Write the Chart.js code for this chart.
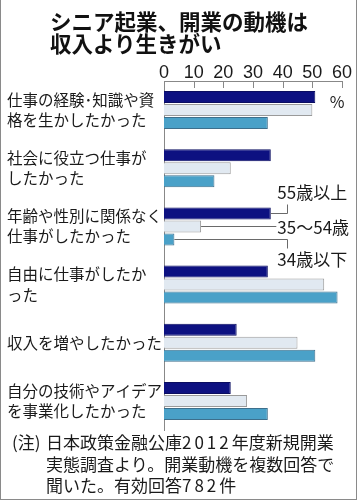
<!DOCTYPE html>
<html><head><meta charset="utf-8">
<script src="https://cdn.jsdelivr.net/npm/chart.js@4.4.1/dist/chart.umd.min.js"></script>
<style>
html,body{margin:0;padding:0;background:#fff;}
#wrap{position:relative;width:357px;height:500px;overflow:hidden;font-family:'Noto Sans CJK JP',sans-serif;color:#1a1a1a;}
#frame{position:absolute;left:0;top:0;width:357px;height:500px;box-sizing:border-box;border:1px solid #8a8a8a;border-top:none;pointer-events:none;}
#title{position:absolute;left:50px;top:10px;font-size:21.5px;font-weight:700;line-height:22px;white-space:nowrap;color:#111;}
#note{position:absolute;left:12px;top:431px;font-size:17px;line-height:21.7px;white-space:nowrap;}
#note .h{display:inline-block;width:34px;}
#note .d{letter-spacing:3px;}
canvas{position:absolute;left:0;top:0;}
</style></head><body>
<div id="wrap">
<canvas id="c" width="357" height="500"></canvas>
<div id="title">シニア起業、開業の動機は<br>収入より生きがい</div>
<div id="note"><span class="h">(注)</span>日本政策金融公庫<span class="d">2012</span>年度新規開業<br><span class="h"></span>実態調査より。開業動機を複数回答で<br><span class="h"></span>聞いた。有効回答<span class="d">782</span>件</div>
<div id="frame"></div>
</div>
<script>
const categories = [
  ["仕事の経験･知識や資","格を生かしたかった"],
  ["社会に役立つ仕事が","したかった"],
  ["年齢や性別に関係なく","仕事がしたかった"],
  ["自由に仕事がしたか","った"],
  ["収入を増やしたかった"],
  ["自分の技術やアイデア","を事業化したかった"]
];
const seriesNames = ["55歳以上","35～54歳","34歳以下"];
const age55over = [51, 36, 36, 35, 24.5, 22.5];
const age35to54 = [50, 22.5, 12.5, 54, 45, 28];
const age34under = [35, 17, 3.5, 58.5, 51, 35];
const xTicks = [0, 10, 20, 30, 40, 50, 60];
const unitLabel = "%";

const CJK = "'Noto Sans CJK JP', sans-serif";
const NUM = "'Liberation Sans', Arial, sans-serif";

const decor = {
  id: 'decor',
  afterDraw(chart) {
    const ctx = chart.ctx;
    const xs = chart.scales.x;
    const ca = chart.chartArea;
    ctx.save();
    ctx.strokeStyle = '#888';
    ctx.lineWidth = 1;
    xTicks.forEach(v => {
      const x = Math.round(xs.getPixelForValue(v)) + 0.5;
      ctx.beginPath();
      ctx.moveTo(x, ca.top);
      ctx.lineTo(x, ca.top + 7);
      ctx.stroke();
    });
    ctx.fillStyle = '#1a1a1a';
    ctx.font = "16px " + CJK;
    ctx.textAlign = 'center';
    ctx.textBaseline = 'middle';
    ctx.fillText(unitLabel, ca.right - 5, ca.top + 21);

    const idx = 2;
    const m0 = chart.getDatasetMeta(0).data[idx];
    const m1 = chart.getDatasetMeta(1).data[idx];
    const m2 = chart.getDatasetMeta(2).data[idx];
    const elbowX = Math.round(xs.getPixelForValue(41.5)) + 0.5;
    const textX = xs.getPixelForValue(38.2);
    ctx.strokeStyle = '#6a6a6a';
    ctx.beginPath();
    let y0 = Math.round(m0.y) + 0.5;
    ctx.moveTo(m0.x, y0); ctx.lineTo(elbowX, y0); ctx.lineTo(elbowX, y0 - 9);
    ctx.stroke();
    ctx.beginPath();
    let y1 = Math.round(m1.y) + 0.5;
    ctx.moveTo(m1.x, y1); ctx.lineTo(textX - 1, y1);
    ctx.stroke();
    ctx.beginPath();
    let y2 = Math.round(m2.y) + 0.5;
    ctx.moveTo(m2.x, y2); ctx.lineTo(elbowX, y2); ctx.lineTo(elbowX, y2 + 9);
    ctx.stroke();

    ctx.font = "17px " + CJK;
    ctx.textAlign = 'left';
    ctx.fillStyle = '#1a1a1a';
    ctx.fillText(seriesNames[0], textX, m0.y - 20.5);
    ctx.fillText(seriesNames[1], textX, m1.y + 1.5);
    ctx.fillText(seriesNames[2], textX, m2.y + 20.5);
    ctx.restore();
  }
};

new Chart(document.getElementById('c'), {
  type: 'bar',
  data: {
    labels: categories,
    datasets: [
      { label: seriesNames[0], data: age55over, backgroundColor: '#0d1181', borderColor: '#0a0d60', borderWidth: 1 },
      { label: seriesNames[1], data: age35to54, backgroundColor: '#e1e9f1', borderColor: '#9a9a9a', borderWidth: 1 },
      { label: seriesNames[2], data: age34under, backgroundColor: '#4aa1c8', borderColor: '#3d6f8c', borderWidth: 1 }
    ]
  },
  options: {
    indexAxis: 'y',
    responsive: false,
    animation: false,
    devicePixelRatio: 1,
    categoryPercentage: 0.67,
    barPercentage: 0.92,
    layout: { padding: { left: 7, right: 15, top: 0, bottom: 70 } },
    plugins: { legend: { display: false }, tooltip: { enabled: false }, title: { display: false } },
    scales: {
      x: {
        position: 'top',
        min: 0, max: 60,
        afterBuildTicks: s => { s.ticks = xTicks.map(v => ({ value: v })); },
        ticks: { color: '#1a1a1a', padding: -3, font: { family: NUM, size: 18 } },
        grid: { display: false, drawTicks: false },
        border: { display: true, color: '#888', width: 1 },
        afterFit: s => { s.height = 81; }
      },
      y: {
        ticks: { crossAlign: 'far', color: '#1a1a1a', padding: 0, font: { family: CJK, size: 15.5, lineHeight: 1.3 } },
        grid: { display: false },
        border: { display: true, color: '#888', width: 1 },
        afterFit: s => { s.width = 157; }
      }
    }
  },
  plugins: [decor]
});
</script>
</body></html>
